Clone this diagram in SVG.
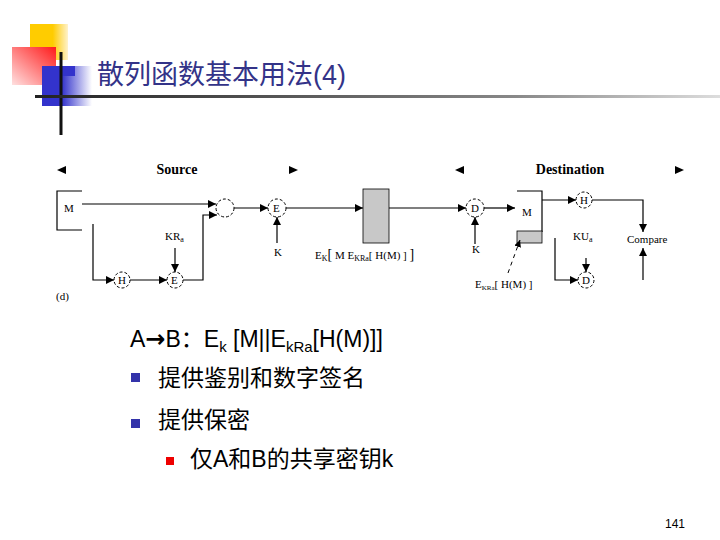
<svg xmlns="http://www.w3.org/2000/svg" width="720" height="540" viewBox="0 0 720 540">
<defs>
<linearGradient id="gy" x1="0" x2="1"><stop offset="0.6" stop-color="#ffcc00"/><stop offset="1" stop-color="#fff2cc"/></linearGradient>
<linearGradient id="gr" x1="1" y1="0" x2="0" y2="1"><stop offset="0" stop-color="#ff1a1a"/><stop offset="1" stop-color="#ffe0e0"/></linearGradient>
<linearGradient id="gb" x1="0" x2="1"><stop offset="0.4" stop-color="#3333cc"/><stop offset="1" stop-color="#ffffff"/></linearGradient>
<linearGradient id="gl" x1="0" x2="1"><stop offset="0" stop-color="#222"/><stop offset="0.7" stop-color="#888"/><stop offset="1" stop-color="#ddd"/></linearGradient>
<marker id="ar" viewBox="0 0 10 10" refX="10" refY="5" markerWidth="7" markerHeight="7" orient="auto"><path d="M0,0L10,5L0,10z" fill="#000"/></marker>
</defs>
<style>
.l{stroke:#000;stroke-width:1.2;fill:none}
.c{fill:#fff;stroke:#000;stroke-width:1;stroke-dasharray:3,2}
.t{font-family:"Liberation Serif",serif;font-size:11px;fill:#000}
.b{font-family:"Liberation Serif",serif;font-size:14px;font-weight:bold;fill:#000}
.z{font-family:"Liberation Sans","Noto Sans CJK SC",sans-serif;font-size:23px;fill:#000}
</style>
<g id="decor">
<rect x="30" y="24" width="38" height="36" fill="url(#gy)"/>
<rect x="12" y="47" width="44" height="38" fill="url(#gr)"/>
<rect x="42" y="66" width="50" height="40" fill="url(#gb)"/>
<rect x="55" y="66" width="20" height="10" fill="#3333cc"/>
<line x1="61" y1="52" x2="61" y2="135" stroke="#111" stroke-width="3"/>
<rect x="35" y="95" width="685" height="3" fill="url(#gl)"/>
</g>
<text id="title" x="97" y="84" font-family="Liberation Sans,'Noto Sans CJK SC',sans-serif" font-size="27" fill="#333388">散列函数基本用法(4)</text>
<g id="headers">
<path d="M57,170l9,-4v8z M298,170l-9,-4v8z M455,170l9,-4v8z M684,170l-9,-4v8z" fill="#000"/>
<text class="b" x="177" y="174" text-anchor="middle">Source</text>
<text class="b" x="570" y="174" text-anchor="middle">Destination</text>
<text class="t" x="56" y="300">(d)</text>
</g>
<g id="nodes">
<g id="Msrc"><path class="l" d="M82,191H57V230H82"/><text class="t" x="64" y="212">M</text></g>
<g id="concat"><circle class="c" cx="225" cy="208" r="9"/></g>
<g id="Hsrc"><circle class="c" cx="122" cy="280" r="8"/><text class="t" x="118" y="284">H</text></g>
<g id="Esrc"><circle class="c" cx="175" cy="280" r="8"/><text class="t" x="171" y="284">E</text></g>
<g id="KRa"><text class="t" x="165" y="240">KR<tspan font-size="8" dy="2">a</tspan></text></g>
<g id="Fenc"><circle class="c" cx="277" cy="208" r="9"/><text class="t" x="273" y="212">E</text><text class="t" x="274" y="256" font-size="9">K</text></g>
<g id="chan"><rect x="363" y="189" width="26" height="54" fill="#c8c8c8" stroke="#000" stroke-width="0.8"/>
<text class="t" x="315" y="259">E<tspan font-size="8" dy="2">K</tspan><tspan dy="-2" font-size="14">[</tspan> M  E<tspan font-size="8" dy="2">KRa</tspan><tspan dy="-2">[ H(M) ] </tspan><tspan font-size="14">]</tspan></text></g>
<g id="Ddec"><circle class="c" cx="475" cy="208" r="9"/><text class="t" x="471" y="212">D</text><text class="t" x="472" y="253" font-size="9">K</text></g>
<g id="Mdst"><path class="l" d="M517,191H542V232"/><rect x="517" y="231" width="25" height="12" fill="#c8c8c8" stroke="#000" stroke-width="0.8"/><text class="t" x="522" y="216">M</text>
<text class="t" x="475" y="288" font-size="10">E<tspan font-size="7" dy="2">KRa</tspan><tspan dy="-2">[ H(M) ]</tspan></text></g>
<g id="Hdst"><circle class="c" cx="584" cy="200" r="8"/><text class="t" x="580" y="204">H</text></g>
<g id="KUa"><text class="t" x="573" y="240">KU<tspan font-size="8" dy="2">a</tspan></text></g>
<g id="Ddst"><circle class="c" cx="586" cy="280" r="8"/><text class="t" x="582" y="284">D</text></g>
<g id="cmp"><text class="t" x="627" y="243" font-size="10">Compare</text></g>
</g>
<g id="connectors">
<line class="l" x1="82" y1="204" x2="216" y2="204" marker-end="url(#ar)"/>
<path class="l" d="M93,224V280H114" marker-end="url(#ar)"/>
<line class="l" x1="130" y1="280" x2="167" y2="280" marker-end="url(#ar)"/>
<line class="l" x1="175" y1="248" x2="175" y2="272" marker-end="url(#ar)"/>
<path class="l" d="M183,280H203V215H217" marker-end="url(#ar)"/>
<line class="l" x1="234" y1="208" x2="268" y2="208" marker-end="url(#ar)"/>
<line class="l" x1="277" y1="243" x2="277" y2="217" marker-end="url(#ar)"/>
<line class="l" x1="286" y1="208" x2="363" y2="208" marker-end="url(#ar)"/>
<line class="l" x1="389" y1="208" x2="466" y2="208" marker-end="url(#ar)"/>
<line class="l" x1="475" y1="244" x2="475" y2="217" marker-end="url(#ar)"/>
<line class="l" x1="484" y1="208" x2="515" y2="208" marker-end="url(#ar)"/>
<line class="l" x1="542" y1="200" x2="576" y2="200" marker-end="url(#ar)"/>
<path class="l" d="M592,200H643V232" marker-end="url(#ar)"/>
<line class="l" x1="643" y1="280" x2="643" y2="248" marker-end="url(#ar)"/>
<path class="l" d="M555,238V280H578" marker-end="url(#ar)"/>
<line class="l" x1="586" y1="258" x2="586" y2="272" marker-end="url(#ar)"/>
<line x1="508" y1="273" x2="520" y2="240" stroke="#000" stroke-width="1" stroke-dasharray="4,4" marker-end="url(#ar)"/>
</g>
<g id="body">
<text class="z" x="130" y="347">A<tspan font-family="DejaVu Sans,sans-serif" font-weight="bold" font-size="24">→</tspan>B：E<tspan font-size="15" dy="5">k</tspan><tspan dy="-5"> [M||E</tspan><tspan font-size="15" dy="5">kRa</tspan><tspan dy="-5">[H(M)]]</tspan></text>
<rect x="131" y="373" width="9" height="9" fill="#3333aa"/>
<text class="z" x="158" y="386">提供鉴别和数字签名</text>
<rect x="131" y="419" width="9" height="9" fill="#3333aa"/>
<text class="z" x="158" y="428">提供保密</text>
<rect x="166" y="457" width="8" height="8" fill="#ee0000"/>
<text class="z" x="190" y="467">仅A和B的共享密钥k</text>
<text x="665" y="528" font-family="Liberation Sans,sans-serif" font-size="12" fill="#000">141</text>
</g>
</svg>
